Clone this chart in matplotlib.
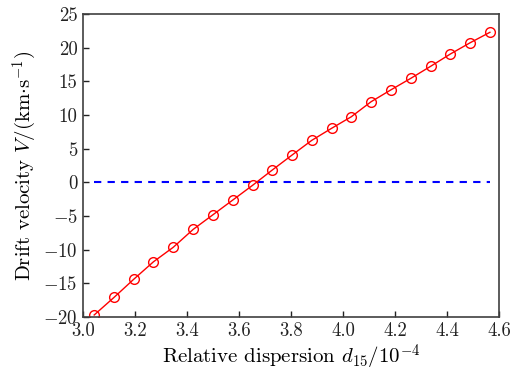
import matplotlib
matplotlib.use("Agg")
import matplotlib.pyplot as plt
import numpy as np

x_vals = [3.043, 3.119, 3.195, 3.271, 3.347, 3.424, 3.500, 3.576, 3.652,
          3.728, 3.804, 3.880, 3.956, 4.032, 4.108, 4.185, 4.261, 4.337,
          4.413, 4.489, 4.565]
v_vals = [-19.7, -17.1, -14.4, -11.8, -9.65, -6.98, -4.81, -2.63, -0.45,
          1.83, 4.05, 6.24, 8.02, 9.74, 11.97, 13.75, 15.45, 17.23,
          19.06, 20.73, 22.28]
zero_vals = [0.0] * len(x_vals)

plt.rcParams['font.family'] = ['cmr10', 'DejaVu Serif']
plt.rcParams['mathtext.fontset'] = 'cm'
plt.rcParams['axes.formatter.use_mathtext'] = True
plt.rcParams['axes.unicode_minus'] = True

fig = plt.figure(figsize=(5.12, 3.72), dpi=100)
ax = fig.add_axes([83/512, 1 - 317/372, (499-83)/512, (317-14)/372])

ax.plot(x_vals, zero_vals, color='blue', linestyle=(0, (3.5, 3)), linewidth=1.5)
ax.plot(x_vals, v_vals, color='red', linewidth=1.0, marker='o', markersize=7,
        markerfacecolor='none', markeredgecolor='red', markeredgewidth=1.0)

ax.set_xlim(3.0, 4.6)
ax.set_ylim(-20, 25)
ax.set_xticks(np.arange(3.0, 4.61, 0.2))
ax.set_xticklabels([f"{v:.1f}" for v in np.arange(3.0, 4.61, 0.2)])
ax.set_yticks(np.arange(-20, 26, 5))
ax.set_yticklabels([f"$-${abs(v)}" if v < 0 else f"{v}" for v in range(-20, 26, 5)])

ax.tick_params(direction='in', length=4, width=1, labelsize=13.5, colors='#222222',
               top=False, right=False, pad=4)
for s in ax.spines.values():
    s.set_color('#404040')
    s.set_linewidth(1.2)

ax.set_xlabel(r"Relative dispersion $d_{15}/10^{-4}$", fontsize=15, labelpad=2)
ax.set_ylabel(r"Drift velocity $V$/(km$\cdot$s$^{-1}$)", fontsize=15, labelpad=3)

fig.savefig("out.png", dpi=100)
